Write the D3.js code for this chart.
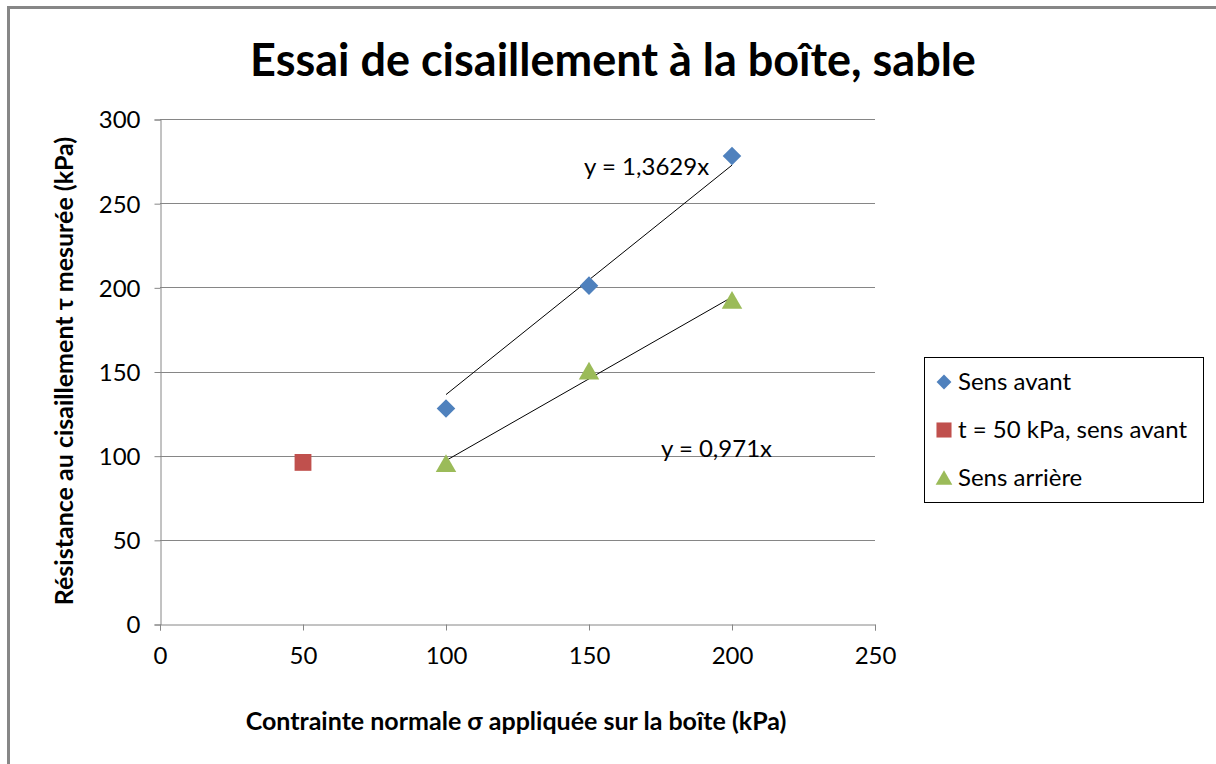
<!doctype html>
<html>
<head>
  <meta charset="utf-8">
  <title>Essai de cisaillement</title>
  <script src="https://d3js.org/d3.v7.min.js"></script>
  <style>
    body { margin: 0; background: #fff; }
    text { font-family: Lato, "Open Sans", sans-serif; fill: #000; }
  </style>
</head>
<body>
<svg width="1216" height="764"></svg>
<script>
  // data
  var avantX = [100, 150, 200]
  var avantY = [128, 201, 278]
  var t50X = [50]
  var t50Y = [96]
  var arriereX = [100, 150, 200]
  var arriereY = [95, 150, 192]
  var slopeAvant = 1.3629
  var slopeArriere = 0.971
  var xTicks = [0, 50, 100, 150, 200, 250]
  var yTicks = [0, 50, 100, 150, 200, 250, 300]
  var legendLabels = ["Sens avant", "t = 50 kPa, sens avant", "Sens arrière"]
  var colors = ["#4f81bd", "#c0504d", "#9bbb59"]

  var svg = d3.select("svg")

  // chart frame (only top and left edges visible)
  svg.append("path")
    .attr("d", "M8.5,764 V7.5 H1216")
    .attr("fill", "none")
    .attr("stroke", "#878787")
    .attr("stroke-width", 3)

  var x = d3.scaleLinear().domain([0, 250]).range([160, 875])
  var y = d3.scaleLinear().domain([0, 300]).range([624, 119])

  // gridlines
  svg.append("g").selectAll("line")
    .data(yTicks.filter(function(d) { return d > 0 }))
    .enter().append("line")
    .attr("x1", x(0)).attr("x2", x(250))
    .attr("y1", function(d) { return Math.round(y(d)) + 0.5 })
    .attr("y2", function(d) { return Math.round(y(d)) + 0.5 })
    .attr("stroke", "#868686").attr("stroke-width", 1)

  var yAxis = svg.append("g")
    .attr("transform", "translate(" + (x(0) + 0.5) + ",0.5)")
    .call(d3.axisLeft(y).tickValues(yTicks).tickSize(6).tickPadding(14))
  var xAxis = svg.append("g")
    .attr("transform", "translate(0," + (y(0) + 0.5) + ")")
    .call(d3.axisBottom(x).tickValues(xTicks).tickSize(6).tickPadding(16))

  ;[xAxis, yAxis].forEach(function(g) {
    g.select(".domain").attr("stroke", "#868686")
    g.selectAll(".tick line").attr("stroke", "#868686")
    g.selectAll(".tick text").attr("font-size", "24px").attr("fill", "#000")
      .style("font-family", "Lato, sans-serif")
  })
  yAxis.selectAll(".tick text").attr("dy", "0.35em")
  xAxis.selectAll(".tick text").attr("dy", "0.72em")

  // trendlines
  var trends = [[avantX, slopeAvant], [arriereX, slopeArriere]]
  svg.append("g").selectAll("line")
    .data(trends)
    .enter().append("line")
    .attr("x1", function(d) { return x(d3.min(d[0])) })
    .attr("y1", function(d) { return y(d[1] * d3.min(d[0])) })
    .attr("x2", function(d) { return x(d3.max(d[0])) })
    .attr("y2", function(d) { return y(d[1] * d3.max(d[0])) })
    .attr("stroke", "#000").attr("stroke-width", 1)

  // markers
  var diamond = d3.symbol().type(d3.symbolDiamond2).size(220)
  var square = d3.symbol().type(d3.symbolSquare2).size(361)
  var triangle = d3.symbol().type(d3.symbolTriangle2).size(300)

  svg.append("g").selectAll("path")
    .data(avantX)
    .enter().append("path")
    .attr("d", diamond)
    .attr("transform", function(d, i) { return "translate(" + x(d) + "," + y(avantY[i]) + ")" })
    .attr("fill", colors[0])

  svg.append("g").selectAll("path")
    .data(t50X)
    .enter().append("path")
    .attr("d", square)
    .attr("transform", function(d, i) { return "translate(" + x(d) + "," + y(t50Y[i]) + ")" })
    .attr("fill", colors[1])

  svg.append("g").selectAll("path")
    .data(arriereX)
    .enter().append("path")
    .attr("d", triangle)
    .attr("transform", function(d, i) { return "translate(" + x(d) + "," + (y(arriereY[i]) + 2) + ")" })
    .attr("fill", colors[2])

  // trendline equations
  svg.append("text")
    .attr("x", x(192)).attr("y", y(267))
    .attr("text-anchor", "end")
    .attr("font-size", "24px").attr("fill", "#000")
    .text("y = 1,3629x")
  svg.append("text")
    .attr("x", x(214)).attr("y", y(99))
    .attr("text-anchor", "end")
    .attr("font-size", "24px").attr("fill", "#000")
    .text("y = 0,971x")

  // title
  svg.append("text")
    .attr("x", 613).attr("y", 76)
    .attr("text-anchor", "middle")
    .attr("font-size", "45px").attr("font-weight", "bold")
    .text("Essai de cisaillement à la boîte, sable")

  // axis titles
  svg.append("text")
    .attr("x", 516).attr("y", 730)
    .attr("text-anchor", "middle")
    .attr("font-size", "25px").attr("font-weight", "bold")
    .text("Contrainte normale σ appliquée sur la boîte (kPa)")

  svg.append("text")
    .attr("transform", "translate(73,371) rotate(-90)")
    .attr("text-anchor", "middle")
    .attr("font-size", "25px").attr("font-weight", "bold")
    .text("Résistance au cisaillement τ mesurée (kPa)")

  // legend
  var legend = svg.append("g")
  legend.append("rect")
    .attr("x", 924.5).attr("y", 357.5)
    .attr("width", 279).attr("height", 145)
    .attr("fill", "#fff").attr("stroke", "#000").attr("stroke-width", 1)

  var shapes = [d3.symbol().type(d3.symbolDiamond2).size(140),
                d3.symbol().type(d3.symbolSquare2).size(289),
                d3.symbol().type(d3.symbolTriangle2).size(200)]
  var items = legend.selectAll(".item")
    .data(legendLabels)
    .enter().append("g")
    .attr("class", "item")
    .attr("transform", function(d, i) { return "translate(944," + (382 + i * 48) + ")" })
  items.append("path")
    .attr("d", function(d, i) { return shapes[i]() })
    .attr("transform", function(d, i) { return i == 2 ? "translate(0,2)" : null })
    .attr("fill", function(d, i) { return colors[i] })
  items.append("text")
    .attr("x", 14).attr("dy", "0.35em")
    .attr("font-size", "24px")
    .text(function(d) { return d })
</script>
</body>
</html>
